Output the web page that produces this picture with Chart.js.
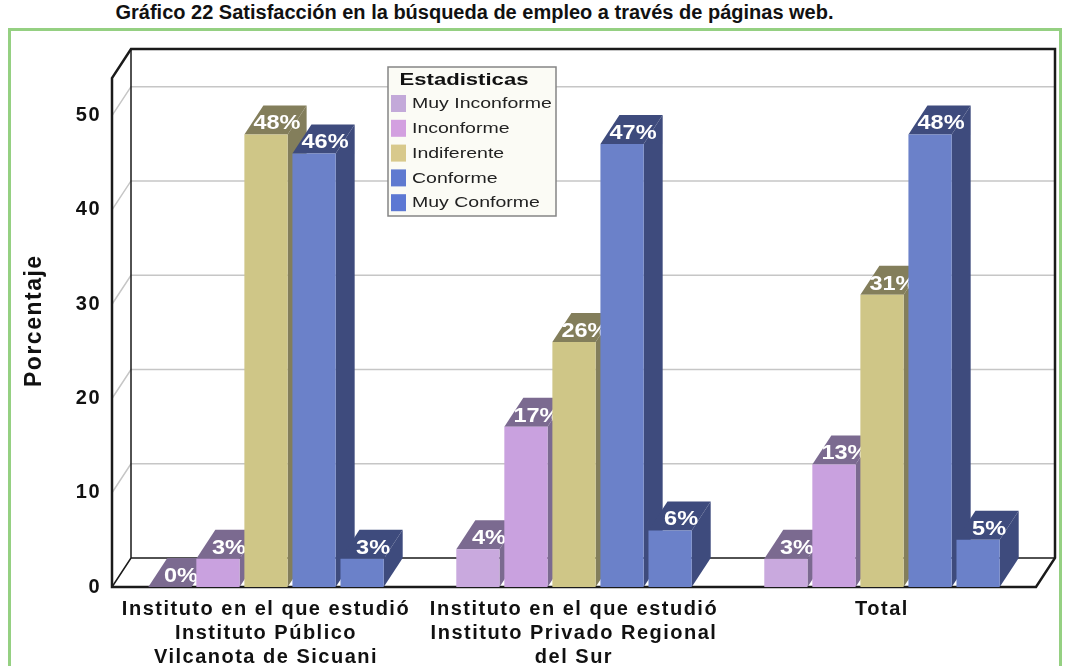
<!DOCTYPE html>
<html>
<head>
<meta charset="utf-8">
<script src="https://cdn.jsdelivr.net/npm/chart.js@4.4.1/dist/chart.umd.min.js"></script>
<style>
  html, body { margin: 0; padding: 0; background: #fff; }
  #wrap { position: relative; width: 1065px; height: 666px; overflow: hidden; }
  #title { position: absolute; left: 0; top: 1px; width: 949px; text-align: center; line-height: 20px;
    font: bold 20px "Liberation Sans", Arial, sans-serif; color: #111; white-space: nowrap; }
  #frame { position: absolute; left: 8px; top: 28px; width: 1048px; height: 700px;
    border: 3px solid #95d082; }
  #chart { position: absolute; left: 0; top: 0; }
</style>
</head>
<body>
<div id="wrap">
  <div id="title">Gráfico 22 Satisfacción en la búsqueda de empleo a través de páginas web.</div>
  <div id="frame"></div>
  <canvas id="chart" width="1065" height="666"></canvas>
</div>
<script>
const categories = [
  ["Instituto en el que estudió", "Instituto Público", "Vilcanota de Sicuani"],
  ["Instituto en el que estudió", "Instituto Privado Regional", "del Sur"],
  "Total",
];
const seriesNames = ["Muy Inconforme", "Inconforme", "Indiferente", "Conforme", "Muy Conforme"];
const muyInconforme = [0, 4, 3];
const inconforme = [3, 17, 13];
const indiferente = [48, 26, 31];
const conforme = [46, 47, 48];
const muyConforme = [3, 6, 5];
const yTicks = [0, 10, 20, 30, 40, 50];

const frontColors = ["#c9a9de", "#c9a1df", "#cfc687", "#6b81c9", "#6b81c9"];
const darkColors = ["#7b6a90", "#7b6a90", "#837e5b", "#3e4b7d", "#3e4b7d"];
const legendColors = ["#c3a9d9", "#d3a0e0", "#d8c98c", "#5f7ad0", "#5d78d3"];

const DX = 19, DY = -29;
const FONT = "'Liberation Sans', Arial, sans-serif";

// the original render is wider than plain Arial, so stretch our own texts a bit
function wideText(ctx, text, x, y, sx) {
  ctx.save();
  ctx.translate(x, y);
  ctx.scale(sx, 1);
  ctx.fillText(text, 0, 0);
  ctx.restore();
}

const walls = {
  id: "walls",
  beforeDraw(chart) {
    chart.ctx.letterSpacing = "1.5px";
  },
  beforeDatasetsDraw(chart) {
    const { ctx, chartArea: a, scales: { y } } = chart;
    ctx.save();
    ctx.strokeStyle = "#c6c6c6";
    ctx.lineWidth = 1.5;
    yTicks.filter((v) => v > 0).forEach((v) => {
      const py = y.getPixelForValue(v);
      ctx.beginPath();
      ctx.moveTo(a.left, py);
      ctx.lineTo(a.left + DX, py + DY);
      ctx.lineTo(a.right + DX, py + DY);
      ctx.stroke();
    });
    ctx.strokeStyle = "#1a1a1a";
    ctx.lineWidth = 1.5;
    ctx.beginPath();
    ctx.moveTo(a.left + DX, a.top + DY);
    ctx.lineTo(a.left + DX, a.bottom + DY);
    ctx.lineTo(a.right + DX, a.bottom + DY);
    ctx.moveTo(a.left, a.bottom);
    ctx.lineTo(a.left + DX, a.bottom + DY);
    ctx.stroke();
    ctx.lineWidth = 2.5;
    ctx.beginPath();
    ctx.moveTo(a.left, a.bottom);
    ctx.lineTo(a.right, a.bottom);
    ctx.lineTo(a.right + DX, a.bottom + DY);
    ctx.lineTo(a.right + DX, a.top + DY);
    ctx.lineTo(a.left + DX, a.top + DY);
    ctx.lineTo(a.left, a.top);
    ctx.closePath();
    ctx.stroke();
    ctx.restore();

    // bars: depth faces, then the library's own front face, then the label
    chart.data.datasets.forEach((ds, i) => {
      const meta = chart.getDatasetMeta(i);
      ctx.save();
      ctx.fillStyle = darkColors[i];
      meta.data.forEach((el) => {
        const l = el.x - el.width / 2, r = el.x + el.width / 2;
        ctx.beginPath();
        ctx.moveTo(r, el.y);
        ctx.lineTo(r + DX, el.y + DY);
        ctx.lineTo(r + DX, el.base + DY);
        ctx.lineTo(r, el.base);
        ctx.closePath();
        ctx.fill();
        ctx.beginPath();
        ctx.moveTo(l, el.y);
        ctx.lineTo(l + DX, el.y + DY);
        ctx.lineTo(r + DX, el.y + DY);
        ctx.lineTo(r, el.y);
        ctx.closePath();
        ctx.fill();
      });
      ctx.restore();
      meta.controller.draw();
      ctx.save();
      ctx.letterSpacing = "0px";
      ctx.fillStyle = "#ffffff";
      ctx.font = "bold 21px " + FONT;
      ctx.textAlign = "center";
      ctx.textBaseline = "middle";
      meta.data.forEach((el, j) => {
        wideText(ctx, ds.data[j] + "%", el.x + 11, el.y - 11, 1.12);
      });
      ctx.restore();
    });
  },
  beforeDatasetDraw() {
    return false;
  },
  afterDraw(chart) {
    const ctx = chart.ctx;
    const bx = 388, by = 67, bw = 168, bh = 149;
    ctx.save();
    ctx.letterSpacing = "0px";
    ctx.fillStyle = "#fbfbf5";
    ctx.fillRect(bx, by, bw, bh);
    ctx.strokeStyle = "#858585";
    ctx.lineWidth = 1.5;
    ctx.strokeRect(bx, by, bw, bh);
    ctx.fillStyle = "#111";
    ctx.textAlign = "center";
    ctx.textBaseline = "middle";
    ctx.font = "bold 17px " + FONT;
    wideText(ctx, "Estadisticas", 464, by + 13, 1.3);
    ctx.textAlign = "left";
    ctx.font = "15px " + FONT;
    chart.data.datasets.forEach((ds, i) => {
      const cy = by + 36 + i * 24.8;
      ctx.fillStyle = legendColors[i];
      ctx.fillRect(bx + 3, cy - 8, 15, 17);
      ctx.fillStyle = "#222";
      wideText(ctx, ds.label, bx + 24, cy + 1, 1.3);
    });
    ctx.restore();
  },
};

const datasetValues = [muyInconforme, inconforme, indiferente, conforme, muyConforme];

new Chart(document.getElementById("chart"), {
  type: "bar",
  data: {
    labels: categories,
    datasets: seriesNames.map((name, i) => ({
      label: name,
      data: datasetValues[i],
      backgroundColor: frontColors[i],
      borderWidth: 0,
      categoryPercentage: 0.78,
      barPercentage: 0.9,
    })),
  },
  options: {
    responsive: false,
    animation: false,
    layout: { padding: { top: 78, right: 29, left: 0, bottom: 0 } },
    plugins: { legend: { display: false }, tooltip: { enabled: false } },
    scales: {
      x: {
        grid: { display: false, drawTicks: false },
        border: { display: false },
        ticks: {
          color: "#111",
          padding: 11,
          font: { family: FONT, size: 20, weight: "bold", lineHeight: 1.18 },
        },
        afterFit: (scale) => { scale.height = 79; },
      },
      y: {
        min: 0,
        max: 54,
        grid: { display: false, drawTicks: false },
        border: { display: false },
        ticks: {
          stepSize: 10,
          color: "#111",
          padding: 11,
          font: { family: FONT, size: 20, weight: "bold" },
        },
        afterBuildTicks: (scale) => {
          scale.ticks = yTicks.map((v) => ({ value: v }));
        },
        title: {
          display: true,
          // leading spaces lift the rotated title a little, as in the original
          text: "   Porcentaje",
          color: "#111",
          padding: { top: 21 },
          font: { family: FONT, size: 23, weight: "bold" },
        },
        afterFit: (scale) => { scale.width = 112; },
      },
    },
  },
  plugins: [walls],
});
</script>
</body>
</html>
